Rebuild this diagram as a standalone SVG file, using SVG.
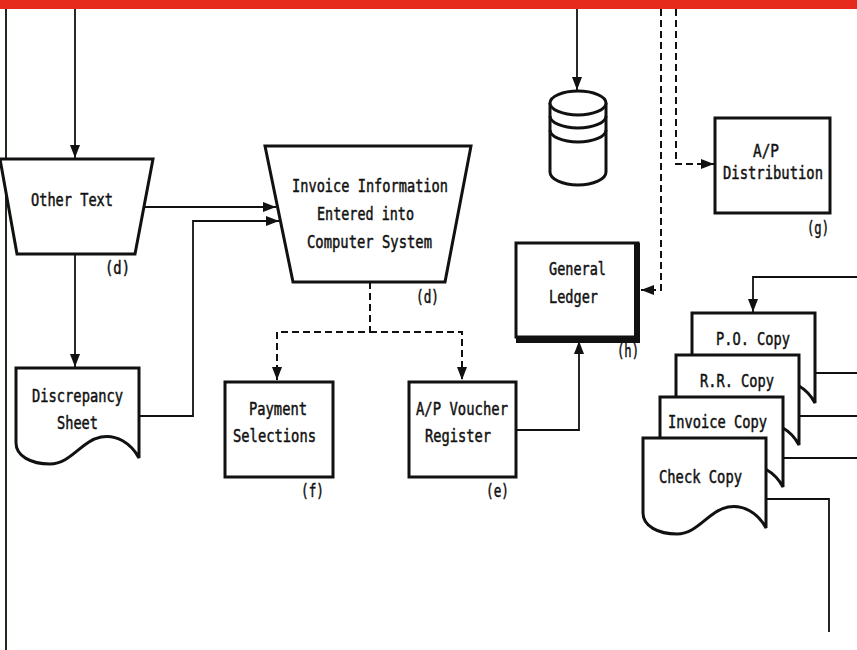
<svg xmlns="http://www.w3.org/2000/svg" width="857" height="650" viewBox="0 0 857 650">
<style>
.t{font-family:"DejaVu Sans Mono","Liberation Mono",monospace;font-size:18px;fill:#111;stroke:#111;stroke-width:0.5;}
.box{fill:#fff;stroke:#111;stroke-width:3;}
.c{fill:none;stroke:#111;stroke-width:1.8;}
.d{fill:none;stroke:#111;stroke-width:2;stroke-dasharray:7 4;}
</style>
<defs>
<marker id="ah" markerUnits="userSpaceOnUse" markerWidth="13" markerHeight="10" refX="13" refY="5" orient="auto">
<path d="M0,0 L13,5 L0,10 Z" fill="#111"/>
</marker>
<path id="doc" d="M0,0 H123 V90 C115,75 100,66 85,69 C65,73 55,96 34,96 C15,96 0,88 0,75 Z"/>
</defs>
<rect x="0" y="0" width="857" height="650" fill="#fff"/>
<rect x="0" y="0" width="857" height="9" fill="#e62a1c"/>

<g id="connectors">
<line x1="6" y1="9" x2="6" y2="650" stroke="#1d2a1d" stroke-width="2"/>
<path class="c" d="M75,9 V158" marker-end="url(#ah)"/>
<path class="c" d="M577,9 V90" marker-end="url(#ah)"/>
<path class="c" d="M145,207 H276" marker-end="url(#ah)"/>
<path class="c" d="M75,254 V367" marker-end="url(#ah)"/>
<path class="c" d="M138,416 H193 V221 H279" marker-end="url(#ah)"/>
<path class="d" d="M370,282 V332 H277 V380" marker-end="url(#ah)"/>
<path class="d" d="M370,332 H462 V380" marker-end="url(#ah)"/>
<path class="c" d="M516,430 H579 V341" marker-end="url(#ah)"/>
<path class="d" d="M661,9 V290 H641" marker-end="url(#ah)"/>
<path class="d" d="M676,9 V164 H714" marker-end="url(#ah)"/>
<path class="c" d="M857,277 H753 V312" marker-end="url(#ah)"/>
<path class="c" d="M815,373 H857"/>
<path class="c" d="M799,416 H857"/>
<path class="c" d="M783,458 H857"/>
<path class="c" d="M767,499 H829 V632"/>
</g>

<g id="other-text">
<polygon class="box" points="0,159 153,159 135,254 17,254"/>
<text class="t" x="31" y="206" textLength="82" lengthAdjust="spacingAndGlyphs">Other Text</text>
<text class="t" x="105" y="274" textLength="25" lengthAdjust="spacingAndGlyphs">(d)</text>
</g>

<g id="discrepancy-sheet">
<use href="#doc" x="16" y="368" class="box"/>
<text class="t" x="32" y="402" textLength="91" lengthAdjust="spacingAndGlyphs">Discrepancy</text>
<text class="t" x="57" y="429" textLength="41" lengthAdjust="spacingAndGlyphs">Sheet</text>
</g>

<g id="invoice-info">
<polygon class="box" points="265,146 471,146 445,282 293,282"/>
<text class="t" x="292" y="192" textLength="156" lengthAdjust="spacingAndGlyphs">Invoice Information</text>
<text class="t" x="317" y="220" textLength="97" lengthAdjust="spacingAndGlyphs">Entered into</text>
<text class="t" x="307" y="248" textLength="125" lengthAdjust="spacingAndGlyphs">Computer System</text>
<text class="t" x="416" y="303" textLength="23" lengthAdjust="spacingAndGlyphs">(d)</text>
</g>

<g id="payment-selections">
<rect class="box" x="225" y="382" width="108" height="95"/>
<text class="t" x="249" y="415" textLength="58" lengthAdjust="spacingAndGlyphs">Payment</text>
<text class="t" x="233" y="442" textLength="83" lengthAdjust="spacingAndGlyphs">Selections</text>
<text class="t" x="301" y="497" textLength="23" lengthAdjust="spacingAndGlyphs">(f)</text>
</g>

<g id="ap-voucher">
<rect class="box" x="409" y="382" width="107" height="95"/>
<text class="t" x="416" y="415" textLength="92" lengthAdjust="spacingAndGlyphs">A/P Voucher</text>
<text class="t" x="425" y="442" textLength="66" lengthAdjust="spacingAndGlyphs">Register</text>
<text class="t" x="486" y="497" textLength="23" lengthAdjust="spacingAndGlyphs">(e)</text>
</g>

<g id="database">
<path d="M550,103 V172 A28,13 0 0 0 606,172 V103" fill="#fff" stroke="#111" stroke-width="3"/>
<ellipse cx="578" cy="103" rx="28" ry="12" fill="#fff" stroke="#111" stroke-width="3"/>
<path d="M550,116 A28,12 0 0 0 606,116" fill="none" stroke="#111" stroke-width="3"/>
<path d="M550,130 A28,12 0 0 0 606,130" fill="none" stroke="#111" stroke-width="3"/>
</g>

<g id="general-ledger">
<rect class="box" x="516" y="243" width="122" height="94"/>
<path d="M637,243 V340 H516" fill="none" stroke="#111" stroke-width="6"/>
<text class="t" x="549" y="275" textLength="57" lengthAdjust="spacingAndGlyphs">General</text>
<text class="t" x="549" y="303" textLength="49" lengthAdjust="spacingAndGlyphs">Ledger</text>
<text class="t" x="617" y="357" textLength="22" lengthAdjust="spacingAndGlyphs">(h)</text>
</g>

<g id="ap-distribution">
<rect class="box" x="715" y="118" width="115" height="95"/>
<text class="t" x="753" y="157" textLength="26" lengthAdjust="spacingAndGlyphs">A/P</text>
<text class="t" x="723" y="179" textLength="100" lengthAdjust="spacingAndGlyphs">Distribution</text>
<text class="t" x="807" y="234" textLength="22" lengthAdjust="spacingAndGlyphs">(g)</text>
</g>

<g id="po-copy">
<use href="#doc" x="692" y="313" class="box"/>
<text class="t" x="716" y="345" textLength="74" lengthAdjust="spacingAndGlyphs">P.O. Copy</text>
</g>
<g id="rr-copy">
<use href="#doc" x="676" y="355" class="box"/>
<text class="t" x="700" y="387" textLength="74" lengthAdjust="spacingAndGlyphs">R.R. Copy</text>
</g>
<g id="invoice-copy">
<use href="#doc" x="660" y="397" class="box"/>
<text class="t" x="668" y="428" textLength="99" lengthAdjust="spacingAndGlyphs">Invoice Copy</text>
</g>
<g id="check-copy">
<use href="#doc" x="643" y="438" class="box"/>
<text class="t" x="659" y="483" textLength="83" lengthAdjust="spacingAndGlyphs">Check Copy</text>
</g>
</svg>
